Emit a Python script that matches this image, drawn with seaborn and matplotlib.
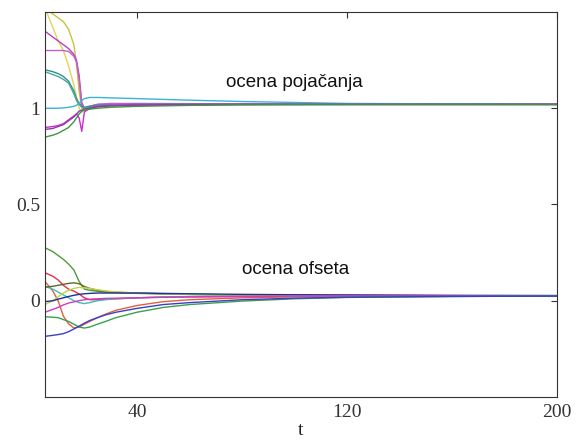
import numpy as np
import pandas as pd
import matplotlib
matplotlib.use("Agg")
import matplotlib.pyplot as plt
import seaborn as sns

# ---------------- data ----------------
t_gain = [5, 8, 10, 12, 14, 16, 17, 18, 19, 20, 22, 25, 30, 40, 60, 80, 120, 200]
gain_yellow1 = [1.52, 1.49, 1.47, 1.45, 1.41, 1.33, 1.23, 1.09, 1.0, 0.99, 1.0, 1.01, 1.015, 1.02, 1.02, 1.02, 1.02, 1.02]
gain_yellow2 = [1.52, 1.42, 1.35, 1.30, 1.22, 1.12, 1.06, 1.0, 0.98, 0.99, 1.0, 1.005, 1.01, 1.015, 1.018, 1.02, 1.02, 1.02]
gain_magenta1 = [1.40, 1.37, 1.35, 1.33, 1.31, 1.28, 1.25, 1.17, 1.03, 1.0, 1.01, 1.02, 1.022, 1.022, 1.022, 1.02, 1.02, 1.02]
gain_purple1 = [1.30, 1.30, 1.30, 1.30, 1.295, 1.27, 1.24, 1.15, 1.01, 1.0, 1.01, 1.02, 1.025, 1.025, 1.024, 1.022, 1.02, 1.02]
gain_teal1 = [1.20, 1.19, 1.18, 1.165, 1.14, 1.09, 1.05, 1.025, 1.01, 1.005, 1.01, 1.015, 1.018, 1.02, 1.02, 1.02, 1.02, 1.02]
gain_teal2 = [1.19, 1.175, 1.165, 1.15, 1.13, 1.075, 1.04, 1.02, 1.005, 1.0, 1.005, 1.012, 1.016, 1.018, 1.02, 1.02, 1.02, 1.02]
gain_cyan = [1.0, 1.0, 1.0, 1.002, 1.005, 1.01, 1.015, 1.025, 1.04, 1.05, 1.056, 1.056, 1.054, 1.05, 1.042, 1.035, 1.025, 1.02]
gain_magenta2 = [0.90, 0.905, 0.91, 0.92, 0.94, 0.96, 0.97, 0.95, 0.88, 0.98, 1.0, 1.01, 1.015, 1.018, 1.02, 1.02, 1.02, 1.02]
gain_purple2 = [0.89, 0.895, 0.905, 0.915, 0.935, 0.955, 0.97, 0.985, 0.99, 0.995, 1.0, 1.008, 1.012, 1.016, 1.018, 1.02, 1.02, 1.02]
gain_green = [0.85, 0.86, 0.87, 0.885, 0.90, 0.93, 0.95, 0.97, 0.985, 0.99, 0.995, 1.0, 1.005, 1.01, 1.015, 1.018, 1.02, 1.02]

t_off = [5, 8, 10, 12, 14, 16, 18, 20, 22, 25, 28, 32, 40, 50, 60, 80, 100, 120, 160, 200]
off_green1 = [0.275, 0.255, 0.235, 0.215, 0.19, 0.16, 0.10, 0.06, 0.054, 0.049, 0.045, 0.042, 0.038, 0.035, 0.033, 0.03, 0.028, 0.027, 0.026, 0.026]
off_red1 = [0.145, 0.127, 0.108, 0.08, 0.06, 0.05, 0.035, 0.015, 0.005, 0.005, 0.008, 0.01, 0.015, 0.018, 0.02, 0.022, 0.024, 0.025, 0.025, 0.025]
off_red2 = [0.10, 0.05, 0.0, -0.08, -0.12, -0.142, -0.137, -0.122, -0.108, -0.088, -0.07, -0.05, -0.025, -0.005, 0.005, 0.015, 0.02, 0.022, 0.024, 0.025]
off_teal = [0.075, 0.06, 0.045, 0.03, 0.015, 0.0, -0.01, -0.015, -0.01, 0.0, 0.005, 0.01, 0.015, 0.02, 0.022, 0.024, 0.025, 0.025, 0.025, 0.025]
off_olive = [0.07, 0.075, 0.08, 0.085, 0.09, 0.093, 0.088, 0.074, 0.064, 0.054, 0.048, 0.044, 0.04, 0.036, 0.033, 0.03, 0.028, 0.027, 0.026, 0.026]
off_yellow = [-0.02, 0.0, 0.02, 0.04, 0.054, 0.064, 0.069, 0.067, 0.064, 0.057, 0.051, 0.046, 0.04, 0.036, 0.033, 0.03, 0.028, 0.027, 0.026, 0.026]
off_navy = [-0.005, 0.0, 0.008, 0.015, 0.022, 0.028, 0.033, 0.036, 0.038, 0.04, 0.04, 0.04, 0.04, 0.038, 0.036, 0.033, 0.031, 0.03, 0.028, 0.027]
off_magenta = [-0.06, -0.045, -0.035, -0.022, -0.012, -0.006, 0.0, 0.005, 0.008, 0.01, 0.012, 0.013, 0.015, 0.018, 0.02, 0.022, 0.024, 0.025, 0.025, 0.025]
off_green2 = [-0.083, -0.086, -0.088, -0.098, -0.108, -0.122, -0.137, -0.142, -0.137, -0.122, -0.108, -0.088, -0.06, -0.035, -0.02, -0.002, 0.01, 0.017, 0.022, 0.025]
off_blue = [-0.185, -0.18, -0.176, -0.171, -0.161, -0.147, -0.132, -0.117, -0.103, -0.088, -0.074, -0.06, -0.04, -0.02, -0.01, 0.005, 0.013, 0.018, 0.022, 0.024]

gain_series = {
    "g_yellow1": gain_yellow1, "g_yellow2": gain_yellow2, "g_magenta1": gain_magenta1,
    "g_purple1": gain_purple1, "g_teal1": gain_teal1, "g_teal2": gain_teal2,
    "g_cyan": gain_cyan, "g_magenta2": gain_magenta2, "g_purple2": gain_purple2,
    "g_green": gain_green,
}
off_series = {
    "o_green1": off_green1, "o_red1": off_red1, "o_red2": off_red2, "o_teal": off_teal,
    "o_olive": off_olive, "o_yellow": off_yellow, "o_navy": off_navy,
    "o_magenta": off_magenta, "o_green2": off_green2, "o_blue": off_blue,
}
palette = {
    "g_yellow1": "#c9c43a", "g_yellow2": "#e2d35a", "g_magenta1": "#b83fc0",
    "g_purple1": "#c060c8", "g_teal1": "#2f8f8f", "g_teal2": "#4aa6a0",
    "g_cyan": "#3ab4d4", "g_magenta2": "#d02ad0", "g_purple2": "#8a3aa8",
    "g_green": "#3f9446",
    "o_green1": "#4f9a3a", "o_red1": "#e0304a", "o_red2": "#e2603a", "o_teal": "#3fbcbc",
    "o_olive": "#5a6a2a", "o_yellow": "#c2d24a", "o_navy": "#1f2f9a",
    "o_magenta": "#d23ac2", "o_green2": "#3aa04a", "o_blue": "#3a3fc8",
}

rows = []
for name, vals in gain_series.items():
    for t, v in zip(t_gain, vals):
        rows.append((name, t, v))
for name, vals in off_series.items():
    for t, v in zip(t_off, vals):
        rows.append((name, t, v))
df = pd.DataFrame(rows, columns=["series", "t", "value"])

# ---------------- plot ----------------
sns.set_style("white")
plt.rcParams["font.family"] = ["Liberation Serif", "DejaVu Serif"]

fig = plt.figure(figsize=(5.85, 4.45), dpi=100)
ax = fig.add_axes([0.0769, 0.108, 0.8752, 0.865])

sns.lineplot(data=df, x="t", y="value", hue="series", palette=palette,
             linewidth=1.0, legend=False, ax=ax, estimator=None, sort=False)

ax.set_xlim(5, 200)
ax.set_ylim(-0.5, 1.5)
ax.set_xticks([40, 120, 200])
ax.set_xticklabels(["40", "120", "200"])
ax.set_yticks([0, 0.5, 1])
ax.set_yticklabels(["0", "0.5", "1"])
ax.tick_params(direction="in", length=4, width=0.8, labelsize=14,
               top=True, right=True, colors="#333333", labelcolor="#333333")
ax.tick_params(axis="x", pad=5)
ax.set_xlabel("t", fontsize=14, labelpad=1, color="#222222")
ax.set_ylabel("")
for s in ax.spines.values():
    s.set_color("#333333")
    s.set_linewidth(0.8)

ax.text(100, 1.136, "ocena pojačanja", ha="center", va="center",
        fontsize=13.5, family=["Liberation Sans", "DejaVu Sans"], color="#111111")
ax.text(100.5, 0.16, "ocena ofseta", ha="center", va="center",
        fontsize=13.5, family=["Liberation Sans", "DejaVu Sans"], color="#111111")

fig.savefig("out.png", dpi=100)
